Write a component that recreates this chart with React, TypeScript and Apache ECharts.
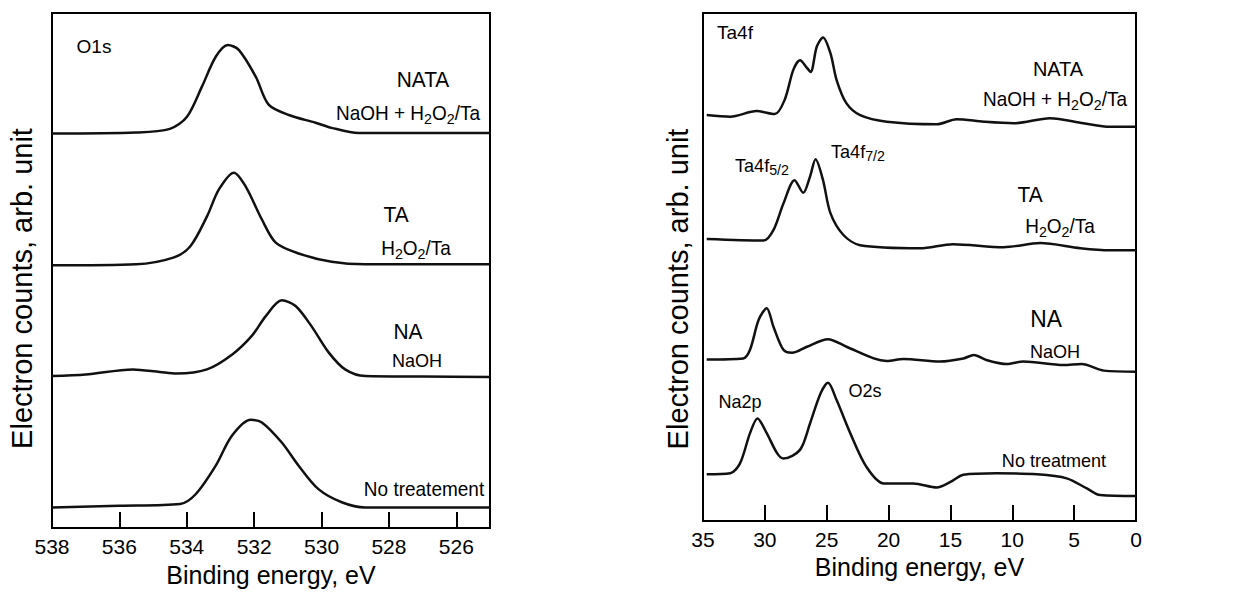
import React, { useEffect, useRef } from "react";
import * as echarts from "echarts";

// ---------- Left panel: O1s (binding energy eV, counts arb. unit) ----------
const o1sTicks = [526, 528, 530, 532, 534, 536];
const o1sLabels = [526, 528, 530, 532, 534, 536, 538];

const o1sNataE = [538, 535.5, 534.5, 534.0, 533.55, 533.14, 532.78, 532.45, 531.95, 531.57, 530.97, 530.18, 529.7, 528.9, 525];
const o1sNataI = [76.6, 76.8, 77.5, 79.8, 85.7, 91.5, 93.8, 92.8, 87.6, 82.2, 80.2, 78.7, 77.7, 76.7, 76.7];

const o1sTaE = [538, 535.5, 534.4, 533.9, 533.4, 533.05, 532.6, 532.25, 531.77, 531.36, 530.68, 529.7, 528.7, 525];
const o1sTaI = [51.0, 51.2, 52.5, 54.65, 60.5, 65.7, 69.0, 66.3, 59.9, 55.4, 53.3, 51.7, 51.2, 51.2];

const o1sNaE = [538, 537, 535.6, 534.8, 534.3, 533.4, 532.65, 532.07, 531.66, 531.18, 530.77, 530.3, 529.79, 529.3, 528.7, 527, 525];
const o1sNaI = [29.5, 29.8, 30.8, 30.3, 30.0, 30.8, 33.7, 37.3, 41.1, 44.2, 43.1, 39.2, 34.1, 30.8, 29.5, 29.4, 29.3];

const o1sNoE = [538, 536, 534.2, 533.73, 533.14, 532.66, 532.1, 531.77, 531.18, 530.68, 530.1, 529.4, 528.7, 525];
const o1sNoI = [4.0, 4.3, 4.65, 6.6, 12.1, 17.9, 21.0, 20.5, 16.6, 12.1, 7.6, 5.0, 4.0, 4.0];

// ---------- Right panel: Ta4f / valence region ----------
const vbNataE = [34.7, 32.8, 30.66, 29.2, 28.4, 27.7, 27.16, 26.6, 26.3, 25.8, 25.3, 24.7, 24.2, 23.4, 22.3, 20.15, 16.1, 14.5, 12.3, 9.9, 6.95, 4.25, 2.1, 0];
const vbNataI = [79.9, 79.6, 80.7, 80.1, 82.9, 88.8, 90.7, 89.2, 88.4, 93.4, 95.2, 92.1, 86.8, 82.2, 79.9, 78.6, 78.1, 79.1, 78.6, 78.3, 79.3, 78.3, 77.6, 77.6];

const vbTaE = [34.7, 30.1, 29.3, 28.5, 27.6, 26.9, 26.35, 25.9, 25.3, 24.7, 23.65, 22.3, 17.45, 14.8, 10.7, 7.75, 4.5, 2.1, 0];
const vbTaI = [55.5, 55.2, 57.3, 62.5, 67.1, 64.6, 67.8, 71.2, 67.1, 60.6, 56.3, 54.3, 53.7, 54.5, 53.9, 54.7, 53.7, 53.3, 53.3];

const vbNaE = [34.7, 31.75, 31.2, 30.5, 29.85, 29.3, 28.5, 27.8, 26.6, 24.9, 23.4, 21.2, 20.15, 18.8, 15.85, 13.95, 13.1, 12.1, 10.45, 9.1, 5.85, 4.4, 2.6, 0];
const vbNaI = [31.8, 32.0, 33.7, 39.6, 41.9, 38.2, 33.7, 33.1, 34.3, 35.8, 34.3, 32.0, 31.5, 31.9, 31.4, 32.0, 32.7, 31.7, 30.9, 31.4, 30.7, 30.9, 29.6, 29.4];

const vbNoE = [34.7, 32.8, 32.0, 31.2, 30.6, 29.85, 29.0, 28.5, 27.16, 26.35, 25.5, 24.9, 24.2, 23.1, 21.8, 20.4, 18.0, 16.1, 15.0, 13.95, 11.3, 8.0, 5.6, 3.97, 2.9, 0];
const vbNoI = [9.2, 9.4, 11.4, 17.3, 20.2, 17.3, 13.3, 12.3, 14.0, 19.2, 25.1, 27.2, 23.8, 17.3, 10.7, 7.4, 7.4, 6.6, 7.7, 9.1, 9.4, 9.2, 8.4, 6.4, 5.1, 4.9];

const FONT = "'Liberation Sans', Arial, Helvetica, sans-serif";
const INK = "#000";

const pairs = (e: number[], v: number[]) => e.map((x, i) => [x, v[i]]);

const line = (name: string, e: number[], v: number[], idx: number) => ({
  type: "line",
  name,
  xAxisIndex: idx,
  yAxisIndex: idx,
  data: pairs(e, v),
  showSymbol: false,
  smooth: 0.3,
  lineStyle: { color: "#111", width: 2.5 },
  itemStyle: { color: "#111" },
  z: 3,
});

const rich = {
  a: { fontFamily: FONT, fill: INK, fontSize: 20, lineHeight: 26 },
  b: { fontFamily: FONT, fill: INK, fontSize: 19, lineHeight: 24 },
  s: { fontFamily: FONT, fill: INK, fontSize: 15, lineHeight: 12, verticalAlign: "bottom" },
};

const label = (text: string, x: number, y: number, size: number, sx = 0.95) => ({
  type: "text",
  x,
  y,
  scaleX: sx,
  silent: true,
  style: {
    text,
    fontFamily: FONT,
    fontSize: size,
    fill: INK,
    textAlign: "center",
    textVerticalAlign: "middle",
    rich,
  },
});

const h2o2 = "{a|H}{s|2}{a|O}{s|2}{a|/Ta}";
const naohH2o2 = "{a|NaOH + H}{s|2}{a|O}{s|2}{a|/Ta}";

export default function App() {
  const ref = useRef<HTMLDivElement>(null);
  useEffect(() => {
    if (!ref.current) return;
    const chart = echarts.init(ref.current, null, { renderer: "svg" });
    const xBase = {
      type: "value",
      inverse: true,
      nameLocation: "middle",
      nameTextStyle: { fontFamily: FONT, fontSize: 25, color: INK },
      axisLine: { show: true, onZero: false, lineStyle: { color: INK, width: 2 } },
      axisTick: { show: true, inside: true, length: 16, lineStyle: { color: INK, width: 2 } },
      axisLabel: { color: INK, fontFamily: FONT, fontSize: 21, margin: 8 },
      splitLine: { show: false },
    };
    const yBase = {
      type: "value",
      min: 0,
      max: 100,
      nameLocation: "middle",
      axisLine: { show: true, lineStyle: { color: INK, width: 2 } },
      axisTick: { show: false },
      axisLabel: { show: false },
      splitLine: { show: false },
    };
    chart.setOption({
      animation: false,
      backgroundColor: "#fff",
      textStyle: { fontFamily: FONT },
      grid: [
        { left: 52, top: 13, width: 438, height: 516, show: true, borderColor: INK, borderWidth: 2, backgroundColor: "transparent" },
        { left: 703, top: 13, width: 433, height: 508, show: true, borderColor: INK, borderWidth: 2, backgroundColor: "transparent" },
      ],
      xAxis: [
        {
          ...xBase,
          gridIndex: 0,
          min: 525,
          max: 538,
          name: "Binding energy, eV",
          nameGap: 34,
          axisTick: { ...xBase.axisTick, customValues: o1sTicks },
          axisLabel: { ...xBase.axisLabel, customValues: o1sLabels },
        },
        {
          ...xBase,
          gridIndex: 1,
          min: 0,
          max: 35,
          interval: 5,
          name: "Binding energy, eV",
          nameGap: 33,
        },
      ],
      yAxis: [
        {
          ...yBase,
          gridIndex: 0,
          name: "Electron counts, arb. unit",
          nameGap: 16,
          nameTextStyle: { fontFamily: FONT, fontSize: 29, color: INK, padding: [0, 36, 0, 0] },
        },
        {
          ...yBase,
          gridIndex: 1,
          name: "Electron counts, arb. unit",
          nameGap: 11,
          nameTextStyle: { fontFamily: FONT, fontSize: 29, color: INK, padding: [0, 44, 0, 0] },
        },
      ],
      series: [
        line("O1s NATA", o1sNataE, o1sNataI, 0),
        line("O1s TA", o1sTaE, o1sTaI, 0),
        line("O1s NA", o1sNaE, o1sNaI, 0),
        line("O1s No treatement", o1sNoE, o1sNoI, 0),
        line("Ta4f NATA", vbNataE, vbNataI, 1),
        line("Ta4f TA", vbTaE, vbTaI, 1),
        line("Ta4f NA", vbNaE, vbNaI, 1),
        line("Ta4f No treatment", vbNoE, vbNoI, 1),
      ],
      graphic: [
        label("O1s", 94, 46, 19, 1),
        label("NATA", 423, 80, 22),
        label(naohH2o2, 408, 113, 20),
        label("TA", 396, 215, 22),
        label(h2o2, 416, 248, 20),
        label("NA", 408, 332, 22),
        label("NaOH", 417, 360, 19),
        label("No treatement", 424, 489, 20),
        label("Ta4f", 735, 32, 19, 1),
        label("NATA", 1058, 68, 21),
        label(naohH2o2, 1055, 99, 20),
        label("{b|Ta4f}{s|5/2}", 762, 165, 19),
        label("{b|Ta4f}{s|7/2}", 858, 151, 19),
        label("TA", 1030, 195, 22),
        label(h2o2, 1060, 226, 20),
        label("NA", 1046, 319, 24),
        label("NaOH", 1055, 351, 19),
        label("Na2p", 740, 401, 19),
        label("O2s", 865, 390, 19),
        label("No treatment", 1054, 460, 19),
      ],
    });
    return () => chart.dispose();
  }, []);
  return (
    <div
      ref={ref}
      style={{ position: "fixed", left: 0, top: 0, width: 1241, height: 592, background: "#fff" }}
    />
  );
}
